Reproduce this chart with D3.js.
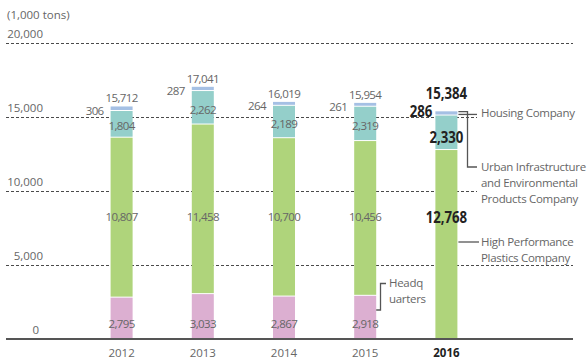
<!DOCTYPE html>
<html>
<head>
<meta charset="utf-8">
<script src="https://cdn.jsdelivr.net/npm/d3@7/dist/d3.min.js"></script>
<style>
  html, body { margin: 0; padding: 0; background: #fff; }
  svg { display: block; }
  text { font-family: "Open Sans", "Noto Sans", sans-serif; }
</style>
</head>
<body>
<svg id="chart" width="588" height="362"></svg>
<script>
// Sales volume by segment, thousand tons
const years = ["2012", "2013", "2014", "2015", "2016"];
const headquarters = [2795, 3033, 2867, 2918, 0];
const highPerformance = [10807, 11458, 10700, 10456, 12768];
const urbanInfra = [1804, 2262, 2189, 2319, 2330];
const housing = [306, 287, 264, 261, 286];
const totals = [15712, 17041, 16019, 15954, 15384];
const yTicks = [0, 5000, 10000, 15000, 20000];
const unitLabel = "(1,000 tons)";

const segmentKeys = ["hq", "hpp", "urban", "housing"];
const colors = { hq: "#dcafd1", hpp: "#afd47b", urban: "#94cfca", housing: "#a5c0e4" };

const rows = years.map((yr, i) => ({
  year: yr, hq: headquarters[i], hpp: highPerformance[i],
  urban: urbanInfra[i], housing: housing[i], total: totals[i]
}));

const svg = d3.select("#chart");
const fmt = d3.format(",");

const x = d3.scaleBand().domain(years).range([70, 498]).paddingInner(0.729).paddingOuter(0.5);
const y = d3.scaleLinear().domain([0, 20000]).range([339, 43]);

const gridRight = { 0: 573, 5000: 573, 10000: 477, 15000: 477, 20000: 573 };

// dashed grid lines
svg.append("g").selectAll("line")
  .data(yTicks.filter(t => t > 0))
  .join("line")
  .attr("x1", 6).attr("x2", d => gridRight[d])
  .attr("y1", d => Math.round(y(d)) + 0.5).attr("y2", d => Math.round(y(d)) + 0.5)
  .attr("stroke", "#4a4a4a").attr("stroke-width", 1)
  .attr("stroke-dasharray", "3,2");

// tick labels sit above their grid line
svg.append("g").selectAll("text")
  .data(yTicks)
  .join("text")
  .attr("x", d => d === 0 ? 39 : 43)
  .attr("y", d => y(d) - 5)
  .attr("text-anchor", "end")
  .attr("font-size", 11.5)
  .attr("fill", "#666")
  .text(d => fmt(d));

svg.append("text")
  .attr("x", 7).attr("y", 19)
  .attr("font-size", 11.5).attr("fill", "#666")
  .text(unitLabel);

// stacked bars
const stack = d3.stack().keys(segmentKeys)(rows);
svg.append("g").selectAll("g")
  .data(stack)
  .join("g")
  .attr("fill", d => colors[d.key])
  .selectAll("rect")
  .data(d => d.filter(s => s[1] > s[0]))
  .join("rect")
  .attr("x", d => x(d.data.year))
  .attr("width", x.bandwidth())
  .attr("y", d => y(d[1]))
  .attr("height", d => Math.max(0, y(d[0]) - y(d[1]) - (d[0] > 0 ? 1 : 0)));

// baseline
svg.append("line")
  .attr("x1", 6).attr("x2", 573)
  .attr("y1", y(0)).attr("y2", y(0))
  .attr("stroke", "#555").attr("stroke-width", 2);

// year labels
svg.append("g").selectAll("text")
  .data(years)
  .join("text")
  .attr("x", d => x(d) + x.bandwidth() / 2)
  .attr("y", 357)
  .attr("text-anchor", "middle")
  .attr("font-size", 11.5)
  .attr("font-weight", d => d === "2016" ? 700 : 400)
  .attr("fill", d => d === "2016" ? "#222" : "#666")
  .text(d => d);

// value labels
const past = rows.slice(0, 4);
const latest = rows[4];
const cx = d => x(d.year) + x.bandwidth() / 2;
const lab = svg.append("g").attr("font-size", 11.5).attr("fill", "#666").attr("letter-spacing", -0.6);

lab.selectAll(".tot").data(past).join("text")
  .attr("x", cx).attr("y", d => y(d.total) - 4)
  .attr("text-anchor", "middle").text(d => fmt(d.total));

lab.selectAll(".hou").data(past).join("text")
  .attr("x", d => x(d.year) - 7).attr("y", d => y(d.hq + d.hpp + d.urban) + 4)
  .attr("text-anchor", "end").text(d => fmt(d.housing));

lab.selectAll(".urb").data(past).join("text")
  .attr("x", cx).attr("y", d => y(d.hq + d.hpp + d.urban / 2) + 6)
  .attr("text-anchor", "middle").text(d => fmt(d.urban));

lab.selectAll(".hpp").data(past).join("text")
  .attr("x", cx).attr("y", 221)
  .attr("text-anchor", "middle").text(d => fmt(d.hpp));

lab.selectAll(".hq").data(past).join("text")
  .attr("x", cx).attr("y", 328)
  .attr("text-anchor", "middle").text(d => fmt(d.hq));

// latest year, emphasised in a condensed bold face
const lx = cx(latest);
const big = svg.append("g");
function bigLabel(px, py, anchor, str) {
  big.append("g").attr("transform", `translate(${px},${py}) scale(0.8,1)`)
    .append("text")
    .attr("text-anchor", anchor)
    .attr("font-size", 16.5).attr("font-weight", 700).attr("fill", "#222")
    .text(str);
}
bigLabel(lx, y(latest.total) - 12, "middle", fmt(latest.total));
bigLabel(x(latest.year) - 3, y(latest.hpp + latest.urban) + 1, "end", fmt(latest.housing));
bigLabel(lx, y(latest.hpp + latest.urban / 2) + 10, "middle", fmt(latest.urban));
bigLabel(lx, 223, "middle", fmt(latest.hpp));

// segment legend with leader lines
const bx = x(latest.year) + x.bandwidth() + 1;
const leader = svg.append("g").attr("stroke", "#555").attr("stroke-width", 1.3).attr("fill", "none");
const yHousing = y(latest.total - latest.housing / 2) + 1;
leader.append("path").attr("d", `M${bx},${yHousing}H477`);
const yUrbanTop = y(latest.hpp + latest.urban) - 4;
leader.append("path").attr("d", `M${bx},${yUrbanTop}H467.5V167H477`);
leader.append("path").attr("d", `M${bx},242H479`);
const hqBar = x("2015") + x.bandwidth();
leader.append("path").attr("d", `M${hqBar},310H380.5V283.5H386`);

const legend = svg.append("g").attr("font-size", 11.5).attr("fill", "#666").attr("letter-spacing", -0.3);
legend.append("text").attr("x", 481).attr("y", 117).text("Housing Company");
["Urban Infrastructure", "and Environmental", "Products Company"].forEach((t, i) =>
  legend.append("text").attr("x", 481).attr("y", 171 + i * 16).text(t));
["High Performance", "Plastics Company"].forEach((t, i) =>
  legend.append("text").attr("x", 481).attr("y", 246 + i * 15.5).text(t));
["Headq", "uarters"].forEach((t, i) =>
  legend.append("text").attr("x", 389).attr("y", 287 + i * 15.5).text(t));
</script>
</body>
</html>
